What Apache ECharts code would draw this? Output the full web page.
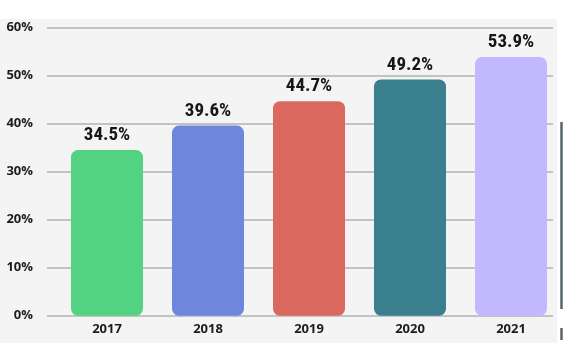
<!DOCTYPE html>
<html><head><meta charset="utf-8">
<script src="https://cdn.jsdelivr.net/npm/echarts@6/dist/echarts.min.js"></script>
<style>html,body{margin:0;padding:0;background:#fff}#c{width:565px;height:362px}</style>
</head><body><div id="c"></div>
<script>
const categories = ['2017', '2018', '2019', '2020', '2021'];
const values = [34.5, 39.6, 44.7, 49.2, 53.9];
const barColors = ['#53d282', '#6e86db', '#da685e', '#3a7f8e', '#c1b8ff'];
const yMin = 0, yMax = 60, yStep = 10;

const chart = echarts.init(document.getElementById('c'));
chart.setOption({
  animation: false,
  backgroundColor: '#ffffff',
  graphic: [
    { type: 'rect', z: -10, shape: { x: 0, y: 19, width: 557, height: 324 }, style: { fill: '#f4f4f4' } },
    { type: 'line', z: -5, shape: { x1: 561.5, y1: 122, x2: 561.5, y2: 309 }, style: { stroke: '#56666d', lineWidth: 2.5 } },
    { type: 'line', z: -5, shape: { x1: 561.5, y1: 328, x2: 561.5, y2: 340 }, style: { stroke: '#56666d', lineWidth: 2.5 } }
  ],
  grid: [
    { left: 47, top: 27.7, width: 506, height: 288 },
    { left: 56.5, top: 27.7, width: 505, height: 288 }
  ],
  xAxis: [
    { gridIndex: 0, type: 'category', data: categories, show: false },
    { gridIndex: 1, type: 'category', data: categories,
      axisLine: { show: false }, axisTick: { show: false },
      axisLabel: { margin: 7, color: '#1c1c1c', fontFamily: 'Open Sans', fontWeight: 700, fontSize: 13 } }
  ],
  yAxis: [
    { gridIndex: 0, type: 'value', min: yMin, max: yMax, interval: yStep,
      axisLine: { show: false }, axisTick: { show: false },
      axisLabel: { formatter: '{value}%', margin: 14, color: '#1c1c1c', fontFamily: 'Open Sans', fontWeight: 700, fontSize: 13 },
      splitLine: { show: true, lineStyle: { color: '#c2c2c2', width: 2 } } },
    { gridIndex: 1, type: 'value', min: yMin, max: yMax, interval: yStep, show: false, splitLine: { show: false } }
  ],
  series: [{
    type: 'bar', xAxisIndex: 1, yAxisIndex: 1,
    data: values.map((v, i) => ({ value: v, itemStyle: { color: barColors[i] } })),
    barWidth: 72,
    itemStyle: { borderRadius: 7 },
    label: { show: true, position: 'top', distance: 5, formatter: p => p.value.toFixed(1) + '%',
      color: '#161616', fontFamily: '"Roboto Condensed", sans-serif', fontWeight: 700, fontSize: 19 }
  }]
});
</script></body></html>
